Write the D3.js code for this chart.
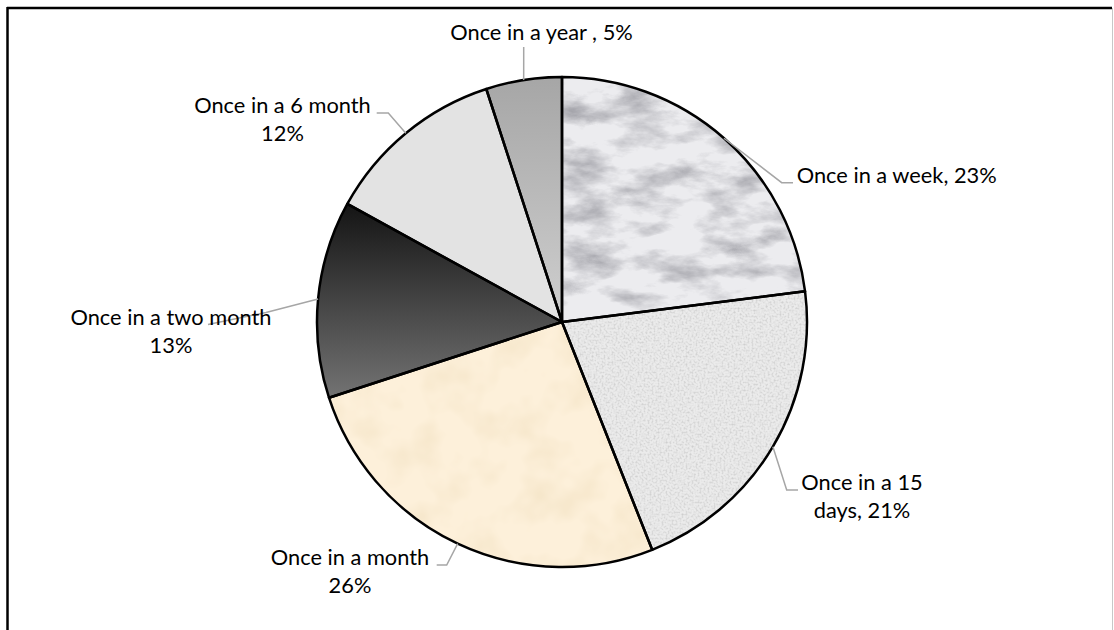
<!DOCTYPE html>
<html>
<head>
<meta charset="utf-8">
<script src="https://cdnjs.cloudflare.com/ajax/libs/d3/7.8.5/d3.min.js"></script>
<style>
  html, body { margin: 0; padding: 0; background: #fff; }
  svg { display: block; }
  text { font-family: Lato, "Open Sans", sans-serif; font-size: 21.8px; fill: #000; }
</style>
</head>
<body>
<svg id="chart" width="1114" height="630"></svg>
<script>
// ---- data ----
const categories = ["Once in a week", "Once in a 15 days", "Once in a month", "Once in a two month", "Once in a 6 month", "Once in a year"];
const values = [23, 21, 26, 13, 12, 5];
const labelLines = [
  ["Once in a week, 23%"],
  ["Once in a 15", "days, 21%"],
  ["Once in a month", "26%"],
  ["Once in a two month", "13%"],
  ["Once in a 6 month", "12%"],
  ["Once in a year , 5%"]
];

// ---- layout (styling / placement only) ----
const W = 1114, H = 630;
const cx = 562, cy = 322, R = 245;
const labelLayout = [
  { tx: 896.7, ty: 183, elbow: [781.7, 182.7], end: [793, 182.7] },
  { tx: 862,   ty: 490, elbow: [786.7, 490],   end: [798, 490] },
  { tx: 350,   ty: 565, elbow: [446.7, 565],   end: [436.7, 565] },
  { tx: 171,   ty: 325, elbow: [266, 312.5],   end: [208, 324.5] },
  { tx: 282.5, ty: 113, elbow: [388.3, 113],   end: [376.7, 113] },
  { tx: 541.5, ty: 40,  elbow: [523.7, 60],    end: [523.7, 47] }
];
const lineHeight = 28;

const svg = d3.select("#chart");
const defs = svg.append("defs");

// gradients
const g1 = defs.append("linearGradient").attr("id", "darkGrad")
  .attr("x1", 0).attr("y1", 0).attr("x2", 0).attr("y2", 1);
g1.append("stop").attr("offset", "0%").attr("stop-color", "#141414");
g1.append("stop").attr("offset", "100%").attr("stop-color", "#737373");

const g2 = defs.append("linearGradient").attr("id", "yearGrad")
  .attr("x1", 0).attr("y1", 0).attr("x2", 0).attr("y2", 1);
g2.append("stop").attr("offset", "0%").attr("stop-color", "#a6a6a6");
g2.append("stop").attr("offset", "100%").attr("stop-color", "#cfcfcf");

// texture filters
function noiseFilter(id, freq, oct, seed, rgb, a, b) {
  const f = defs.append("filter").attr("id", id)
    .attr("x", 0).attr("y", 0).attr("width", "100%").attr("height", "100%")
    .attr("color-interpolation-filters", "sRGB");
  f.append("feTurbulence").attr("type", "fractalNoise")
    .attr("baseFrequency", freq).attr("numOctaves", oct).attr("seed", seed);
  f.append("feColorMatrix").attr("type", "matrix")
    .attr("values", `0 0 0 0 ${rgb[0]}  0 0 0 0 ${rgb[1]}  0 0 0 0 ${rgb[2]}  ${a} 0 0 0 ${b}`);
}
noiseFilter("marble", "0.02 0.045", 5, 7, [0.55, 0.55, 0.58], 1.7, -0.72);
noiseFilter("granite", "0.5", 2, 3, [0.66, 0.66, 0.66], 1.0, -0.42);
noiseFilter("cream", "0.025", 3, 11, [0.90, 0.82, 0.66], 0.7, -0.3);

const baseFill = ["#ececef", "#ebebeb", "#fdf0da", "url(#darkGrad)", "#e3e3e3", "url(#yearGrad)"];
const texture = ["marble", "granite", "cream", null, null, null];

// frame
svg.append("line").attr("x1", 7).attr("y1", 8).attr("x2", 1112).attr("y2", 8)
  .attr("stroke", "#000").attr("stroke-width", 2.5);
svg.append("line").attr("x1", 7.5).attr("y1", 7).attr("x2", 7.5).attr("y2", H)
  .attr("stroke", "#000").attr("stroke-width", 2.5);
svg.append("line").attr("x1", 1112.5).attr("y1", 8).attr("x2", 1112.5).attr("y2", H)
  .attr("stroke", "#c8c8c8").attr("stroke-width", 1);

// pie
const pie = d3.pie().sort(null).value(d => d)(values);
const arc = d3.arc().innerRadius(0).outerRadius(R);
const g = svg.append("g").attr("transform", `translate(${cx},${cy})`);

pie.forEach((p, i) => {
  const clipId = "clip" + i;
  defs.append("clipPath").attr("id", clipId)
    .append("path").attr("d", arc(p));
  g.append("path").attr("d", arc(p)).attr("fill", baseFill[i]);
  if (texture[i]) {
    g.append("rect")
      .attr("x", -R - 2).attr("y", -R - 2).attr("width", 2 * R + 4).attr("height", 2 * R + 4)
      .attr("clip-path", `url(#${clipId})`)
      .attr("filter", `url(#${texture[i]})`);
  }
});
g.selectAll("path.outline").data(pie).join("path")
  .attr("class", "outline")
  .attr("d", arc)
  .attr("fill", "none")
  .attr("stroke", "#000")
  .attr("stroke-width", 2.5)
  .attr("stroke-linejoin", "round");

// leader lines
pie.forEach((p, i) => {
  const mid = (p.startAngle + p.endAngle) / 2;
  const sx = cx + R * Math.sin(mid), sy = cy - R * Math.cos(mid);
  const L = labelLayout[i];
  svg.append("polyline")
    .attr("points", [[sx, sy], L.elbow, L.end].map(q => q.join(",")).join(" "))
    .attr("fill", "none").attr("stroke", "#a6a6a6").attr("stroke-width", 1.5);
});

// labels
labelLines.forEach((lines, i) => {
  const L = labelLayout[i];
  const t = svg.append("text").attr("text-anchor", "middle");
  lines.forEach((s, k) => {
    t.append("tspan").attr("x", L.tx).attr("y", L.ty + k * lineHeight).text(s);
  });
});
</script>
</body>
</html>
